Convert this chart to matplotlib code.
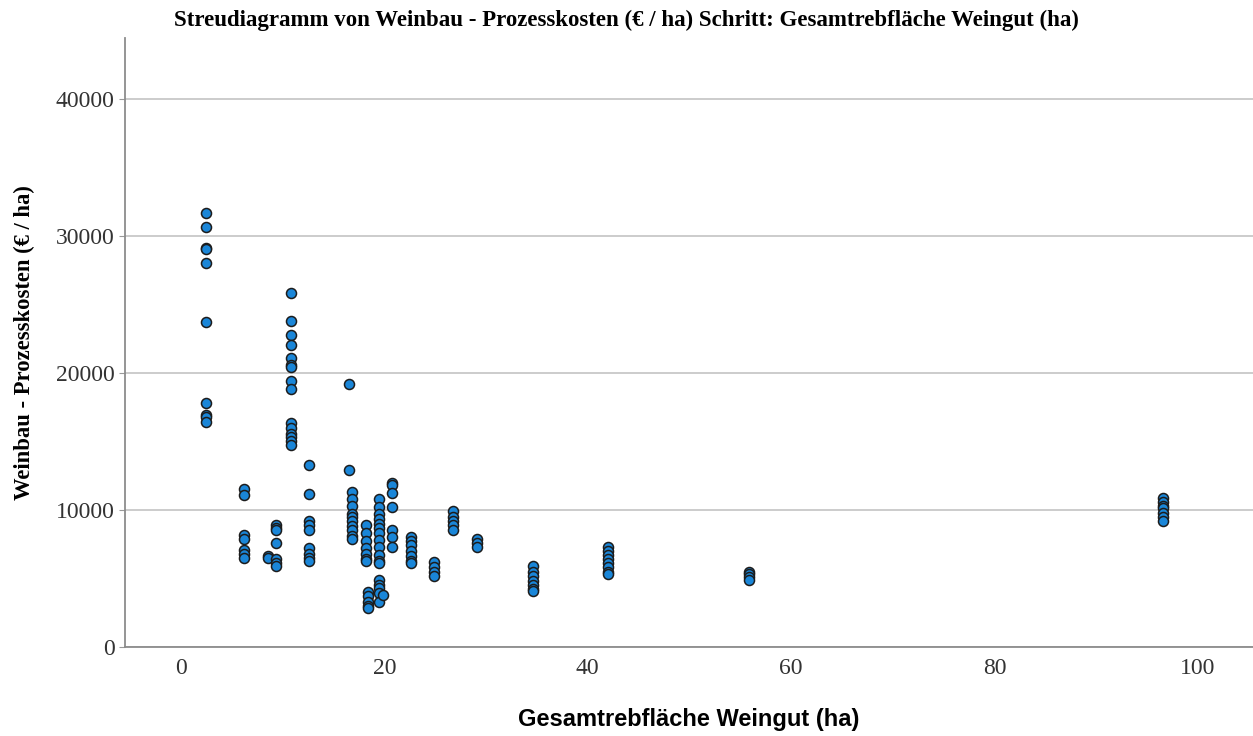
import matplotlib.pyplot as plt
import numpy as np

# Gesamtrebfläche (ha) per Weingut-Gruppe and the process costs seen at that area
area_ha = [2.5, 6.2, 8.6, 9.3, 10.8, 12.6, 16.5, 16.8, 18.2, 18.4, 19.5, 19.9,
           20.8, 22.6, 24.9, 26.8, 29.1, 34.6, 42.0, 55.9, 96.6]
cost = [
    [31650, 30600, 29100, 29050, 28000, 23700, 17800, 16900, 16800, 16400],
    [11500, 11100, 8200, 7900, 7100, 6800, 6500],
    [6600, 6500],
    [8900, 8700, 8500, 7600, 6400, 6100, 5900],
    [25800, 23800, 22750, 22050, 21050, 20600, 20400, 19400, 18850, 16300,
     16000, 15500, 15300, 15000, 14700],
    [13250, 11150, 9200, 8900, 8500, 7200, 6800, 6500, 6300],
    [19200, 12900],
    [11300, 10800, 10300, 9700, 9500, 9200, 8800, 8500, 8100, 7900],
    [8900, 8300, 7700, 7200, 6800, 6400, 6300],
    [4000, 3700, 3300, 3000, 2850],
    [10800, 10200, 9700, 9300, 9000, 8700, 8300, 7800, 7300, 6700, 6300, 6100,
     4900, 4500, 4300, 3900, 3300],
    [3800],
    [11950, 11800, 11200, 10200, 8500, 8000, 7300],
    [8000, 7700, 7400, 7000, 6600, 6300, 6100],
    [6200, 5800, 5500, 5200],
    [9950, 9500, 9200, 8900, 8500],
    [7900, 7600, 7300],
    [5900, 5500, 5200, 4800, 4500, 4200, 4100],
    [7300, 7000, 6700, 6400, 6100, 5800, 5500, 5300],
    [5500, 5300, 5100, 4900],
    [10900, 10600, 10300, 10100, 9800, 9500, 9200],
]
x_ticks = [0, 20, 40, 60, 80, 100]
y_ticks = [0, 10000, 20000, 30000, 40000]

x = np.concatenate([[a] * len(c) for a, c in zip(area_ha, cost)])
y = np.concatenate(cost)

fig = plt.figure(figsize=(12.53, 7.36), dpi=100)
ax = fig.add_axes([0.0998, 0.121, 0.9, 0.827])

ax.scatter(x, y, s=52, c='#1a86d8', edgecolors='#1c1c1c', linewidths=1.1, zorder=3)

ax.set_xlim(-5.5, 105.4)
ax.set_ylim(0, 44400)
ax.set_xticks(x_ticks)
ax.set_yticks(y_ticks)
ax.tick_params(axis='x', length=0, pad=8, labelsize=17, labelcolor='#333333')
ax.tick_params(axis='y', length=4, color='#999999', labelsize=17, labelcolor='#333333')
for lab in ax.get_xticklabels() + ax.get_yticklabels():
    lab.set_fontfamily('Liberation Serif')

ax.grid(axis='y', color='#c8c8c8', linewidth=1.3, zorder=0)
ax.set_axisbelow(True)
for s in ['top', 'right']:
    ax.spines[s].set_visible(False)
for s in ['left', 'bottom']:
    ax.spines[s].set_color('#8c8c8c')
    ax.spines[s].set_linewidth(1.3)

ax.set_title('Streudiagramm von Weinbau - Prozesskosten (€ / ha) Schritt: Gesamtrebfläche Weingut (ha)',
             fontfamily='Liberation Serif', fontweight='bold', fontsize=16.5, pad=9, x=0.445)
ax.set_ylabel('Weinbau - Prozesskosten (€ / ha)', fontfamily='Liberation Serif',
              fontweight='bold', fontsize=16.3, labelpad=15)
ax.set_xlabel('Gesamtrebfläche Weingut (ha)', fontfamily='Liberation Sans',
              fontweight='bold', fontsize=17, labelpad=21)

fig.savefig('out.png', dpi=100)
